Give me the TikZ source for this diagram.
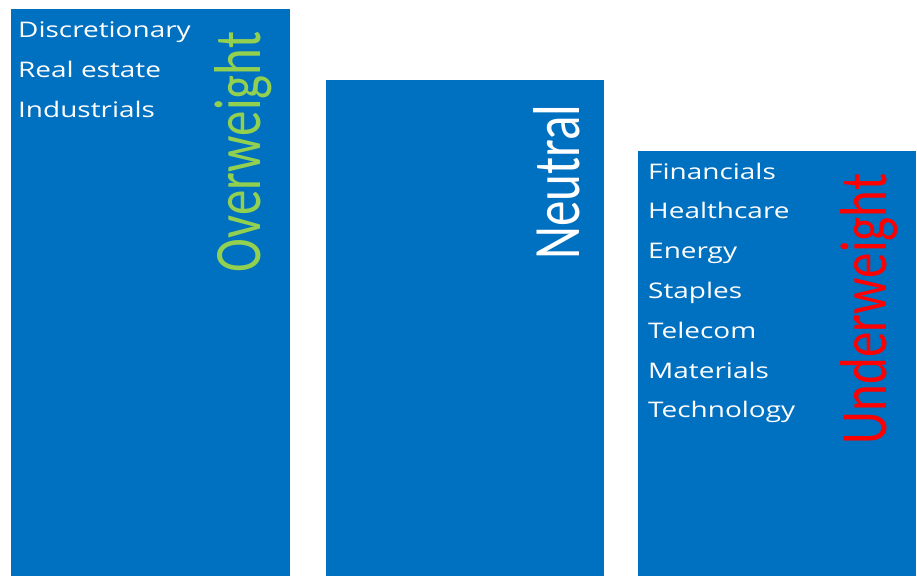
\documentclass[tikz,border=0pt]{standalone}
\usepackage{fontspec}
\usepackage{graphicx}
\setmainfont{Open Sans}
\newfontfamily\tagfont{Carlito}
\usepackage{tikz}
\usetikzlibrary{positioning}

\definecolor{barblue}{HTML}{0070C0}
\definecolor{overgreen}{HTML}{92D050}
\definecolor{underred}{HTML}{FF0000}

% slides were widened, so the text is too
\newcommand{\wide}[1]{\scalebox{1.3}[1]{#1}}

\tikzset{
  bar/.style={fill=barblue, draw=none, anchor=north west, inner sep=0pt},
  sector/.style={anchor=base west, inner sep=0pt, text=white,
    font=\fontsize{21.5}{26}\selectfont},
  tag/.style={inner sep=0pt, font=\tagfont\fontsize{51}{61}\selectfont}
}

\begin{document}
\begin{tikzpicture}[x=1pt,y=-1pt]
	\useasboundingbox (0,0) rectangle (917,576);
	% the three buckets
	\node[bar, minimum width=279pt, minimum height=567pt] (over) at (11,9) {};
	\node[bar, minimum width=278pt, minimum height=496pt] (neutral) at (326,80) {};
	\node[bar, minimum width=278pt, minimum height=425pt] (under) at (638,151) {};

	% sector lists
	\foreach \name [count=\i] in {Discretionary, Real estate, Industrials}
		\node[sector] (o\i) at (18, {37+40*(\i-1)}) {\wide{\name}};
	\foreach \name [count=\i] in {Financials, Healthcare, Energy, Staples, Telecom, Materials, Technology}
		\node[sector] (u\i) at (648, {179+39.8*(\i-1)}) {\wide{\name}};

	% vertical tags
	\node[tag, text=overgreen] (overtag) at (243,152) {\wide{\rotatebox{90}{Overweight}}};
	\node[tag, text=white] (neutraltag) at (557,182) {\wide{\rotatebox{90}{Neutral}}};
	\node[tag, text=underred] (undertag) at (869,309) {\wide{\rotatebox{90}{Underweight}}};
\end{tikzpicture}
\end{document}
